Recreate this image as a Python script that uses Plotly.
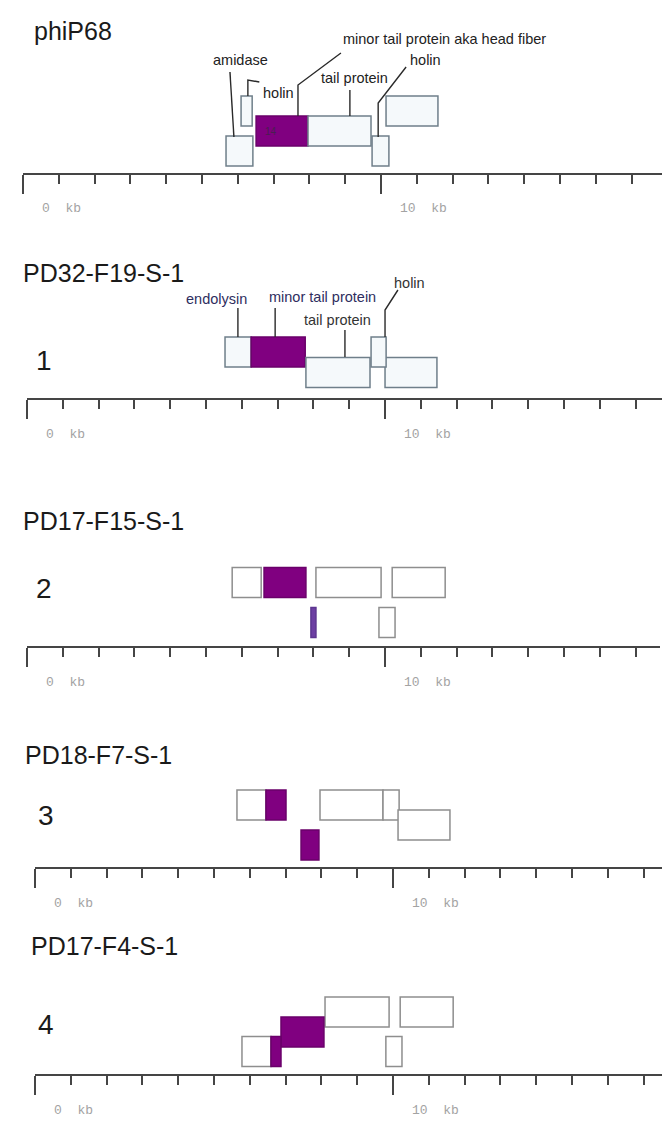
import plotly.graph_objects as go

# ---------------- data ----------------
panel_titles = ["phiP68", "PD32-F19-S-1", "PD17-F15-S-1", "PD18-F7-S-1", "PD17-F4-S-1"]
panel_numbers = ["", "1", "2", "3", "4"]
tick_labels = ["0  kb", "10  kb"]
tick_label_pos = [0, 10]
minor_ticks_kb = [1, 2, 3, 4, 5, 6, 7, 8, 9, 11, 12, 13, 14, 15, 16, 17]

# gene coordinates in kb, row index, kind
p1_start = [5.67, 6.09, 6.51, 7.96, 9.75, 10.14]
p1_end = [6.42, 6.40, 7.96, 9.72, 10.22, 11.59]
p1_row = [0, 2, 1, 1, 0, 2]
p1_kind = ["gene", "gene", "hit", "gene", "gene", "gene"]

p2_start = [5.53, 6.26, 7.79, 10.00, 9.61]
p2_end = [6.26, 7.77, 9.58, 11.45, 10.03]
p2_row = [1, 1, 0, 0, 1]
p2_kind = ["gene", "hit", "gene", "gene", "gene"]

p3_start = [5.73, 6.62, 8.07, 10.20, 7.93, 9.83]
p3_end = [6.54, 7.79, 9.89, 11.68, 8.07, 10.28]
p3_row = [1, 1, 1, 1, 0, 0]
p3_kind = ["gene", "hit", "gene", "gene", "hit2", "gene"]

p4_start = [5.64, 6.45, 7.96, 9.72, 10.14, 7.43]
p4_end = [6.45, 7.01, 9.72, 10.17, 11.59, 7.93]
p4_row = [2, 2, 2, 2, 1, 0]
p4_kind = ["gene", "hit", "gene", "gene", "gene", "hit"]

p5_start = [8.10, 10.20, 6.87, 5.78, 6.59, 9.80]
p5_end = [9.89, 11.68, 8.07, 6.59, 6.87, 10.25]
p5_row = [2, 2, 1, 0, 0, 0]
p5_kind = ["gene", "gene", "hit", "gene", "hit", "gene"]

# gene function labels
p1_labels = ["amidase", "holin", "minor tail protein aka head fiber", "tail protein", "holin"]
p2_labels = ["endolysin", "minor tail protein", "tail protein", "holin"]
p1_box_number = "14"

panels = [
    (p1_start, p1_end, p1_row, p1_kind),
    (p2_start, p2_end, p2_row, p2_kind),
    (p3_start, p3_end, p3_row, p3_kind),
    (p4_start, p4_end, p4_row, p4_kind),
    (p5_start, p5_end, p5_row, p5_kind),
]

# ---------------- layout / style ----------------
W, H = 670, 1121
PX_PER_KB = 35.8
axis_px = [165, 390, 638, 859, 1066]        # axis line y (px from top)
top_px = [0, 222, 455, 685, 900]            # top of each panel band
x0_px = [15, 19, 19, 27, 27]                # pixel of 0 kb
xend_px = [658, 660, 652, 670, 660]         # end of axis line
row_centers = [[22, 42, 62], [25.5, 46], [23.5, 63.5], [22, 42, 62], [22.5, 42, 62]]
BOX_H = 30
title_y = [142, 125, 125, 112, 128]
title_x_px = [24, 13, 13, 15, 21]
number_y = [0, 38, 58, 52, 50]
number_x_px = [0, 26, 26, 28, 28]
KB_LABEL_DY = 36

styles = {
    "light": dict(fill="#f5f9fb", line="#6f7f8a"),
    "plain": dict(fill="#ffffff", line="#8e8e8e"),
    "hit": dict(fill="#800080", line="#6a006a"),
    "hit2": dict(fill="#6d3fa3", line="#5c3590"),
}
AXIS_COLOR = "#454545"
LABEL_FONT = "Liberation Sans, Arial, sans-serif"

fig = go.Figure()
layout = dict(
    width=W, height=H, margin=dict(l=0, r=0, t=0, b=0),
    paper_bgcolor="white", plot_bgcolor="white",
    showlegend=False, barmode="overlay",
)
annotations = []

for i, (starts, ends, rows, kinds) in enumerate(panels):
    n = i + 1
    xa = "x" if n == 1 else f"x{n}"
    ya = "y" if n == 1 else f"y{n}"
    rng = (xend_px[i] - x0_px[i]) / PX_PER_KB
    yspan = axis_px[i] - top_px[i]
    layout[f"xaxis{'' if n == 1 else n}"] = dict(
        domain=[x0_px[i] / W, xend_px[i] / W], range=[-0.002, rng], anchor=ya,
        showline=True, linecolor=AXIS_COLOR, linewidth=2,
        showgrid=False, zeroline=False, fixedrange=True,
        tickmode="array", tickvals=tick_label_pos, ticks="outside",
        ticklen=19, tickwidth=2, tickcolor=AXIS_COLOR, showticklabels=False,
        minor=dict(tickmode="array", tickvals=minor_ticks_kb, ticks="outside",
                   ticklen=9, tickwidth=2, tickcolor=AXIS_COLOR, showgrid=False),
    )
    layout[f"yaxis{'' if n == 1 else n}"] = dict(
        domain=[1 - axis_px[i] / H, 1 - top_px[i] / H], range=[0, yspan],
        visible=False, fixedrange=True,
    )
    base_style = "light" if i < 2 else "plain"
    for s, e, r, k in zip(starts, ends, rows, kinds):
        st = styles[k] if k in ("hit", "hit2") else styles[base_style]
        fig.add_trace(go.Bar(
            orientation="h", base=[s], x=[e - s], y=[row_centers[i][r]],
            width=[BOX_H], xaxis=xa, yaxis=ya,
            marker=dict(color=st["fill"], line=dict(color=st["line"], width=1.5)),
            hoverinfo="skip",
        ))
    # kb labels below the axis
    for tv, tt in zip(tick_label_pos, tick_labels):
        annotations.append(dict(
            xref=xa, yref="paper", x=tv, y=1 - (axis_px[i] + KB_LABEL_DY) / H,
            text=tt, showarrow=False, xanchor="left", yanchor="middle", xshift=17,
            font=dict(family="Liberation Mono, Courier New, monospace", size=13, color="#a3a3a3"),
        ))
    # titles
    annotations.append(dict(
        xref="paper", yref=ya, x=title_x_px[i] / W, y=title_y[i], text=panel_titles[i],
        showarrow=False, xanchor="left", yanchor="middle",
        font=dict(family=LABEL_FONT, size=25, color="#1a1a1a"),
    ))
    if panel_numbers[i]:
        annotations.append(dict(
            xref="paper", yref=ya, x=number_x_px[i] / W, y=number_y[i], text=panel_numbers[i],
            showarrow=False, xanchor="left", yanchor="middle",
            font=dict(family=LABEL_FONT, size=28, color="#1a1a1a"),
        ))

# ---------------- function labels with leader lines ----------------
# each: (panel, text, text x kb, text y px, xanchor, color, leader polyline [(kb, px), ...])
label_specs = [
    (0, p1_labels[0], 6.06, 113, "center", "#222222", [(5.89, 36), (5.78, 101)]),
    (0, p1_labels[1], 6.66, 80, "left", "#222222", [(6.28, 77), (6.28, 93), (6.60, 91)]),
    (0, p1_labels[2], 8.88, 134, "left", "#222222", [(7.68, 57), (7.68, 88), (8.88, 120)]),
    (0, p1_labels[3], 9.25, 95, "center", "#222222", [(9.13, 57), (9.13, 83)]),
    (0, p1_labels[4], 11.23, 113, "center", "#222222", [(9.92, 36), (9.92, 70), (10.70, 106)]),
    (1, p2_labels[0], 5.28, 99, "center", "#2e2e5e", [(5.89, 61), (5.89, 90)]),
    (1, p2_labels[1], 8.24, 101, "center", "#2e2e5e", [(6.93, 61), (6.93, 90)]),
    (1, p2_labels[2], 8.66, 78, "center", "#333333", [(8.88, 41), (8.88, 68)]),
    (1, p2_labels[3], 10.67, 115, "center", "#333333", [(10.00, 61), (10.00, 88), (10.36, 108)]),
]
for (pi, text, tx, ty, xanc, col, pts) in label_specs:
    n = pi + 1
    xa = "x" if n == 1 else f"x{n}"
    ya = "y" if n == 1 else f"y{n}"
    fig.add_trace(go.Scatter(
        x=[p[0] for p in pts], y=[p[1] for p in pts], mode="lines",
        line=dict(color="#2a2a2a", width=1.4), xaxis=xa, yaxis=ya,
        hoverinfo="skip", cliponaxis=False,
    ))
    annotations.append(dict(
        xref=xa, yref=ya, x=tx, y=ty, text=text, showarrow=False,
        xanchor=xanc, yanchor="middle",
        font=dict(family=LABEL_FONT, size=14.5, color=col),
    ))

annotations.append(dict(
    xref="x", yref="y", x=6.93, y=42, text=p1_box_number, showarrow=False,
    font=dict(family=LABEL_FONT, size=10, color="#4a1f50"),
))

layout["annotations"] = annotations
fig.update_layout(**layout)
fig.write_html("out.html")
